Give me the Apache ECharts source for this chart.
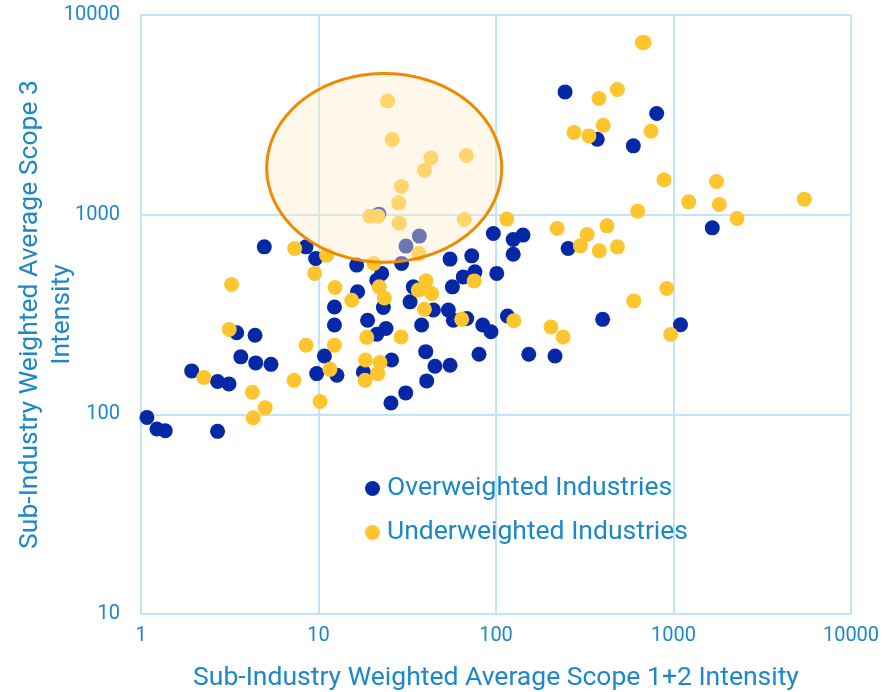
<!DOCTYPE html>
<html>
<head>
<meta charset="utf-8">
<script src="https://cdn.jsdelivr.net/npm/echarts@6/dist/echarts.min.js"></script>
<style>
  html, body { margin: 0; padding: 0; background: #ffffff; }
  #chart { width: 894px; height: 692px; }
</style>
</head>
<body>
<div id="chart"></div>
<script>
// Scope 1+2 intensity (x) and Scope 3 intensity (y) per sub-industry
const overweightX = [4.95, 8.5, 9.64, 12.3, 12.3, 3.46, 4.39, 3.65, 10.8, 4.43, 5.4, 1.93, 2.7, 3.13, 9.77,
  1.08, 1.23, 1.37, 2.7, 16.4, 29.4, 31.1, 37.0, 55.1, 73.0, 96.6, 22.7, 21.3, 23.2, 16.6, 18.9, 21.3, 24.0,
  34.2, 32.8, 44.4, 38.1, 56.8, 65.4, 76.1, 101, 53.9, 57.5, 68.4, 84.2, 93.7, 12.7, 17.9, 25.8, 40.2, 45.3,
  55.1, 40.7, 80.2, 31.0, 25.6, 125, 142, 125, 255, 116, 399, 1095, 153, 215, 1654, 21.9, 245, 804, 372, 594];
const overweightY = [690, 690, 603, 345, 280, 256, 249, 194, 196, 181, 178, 165, 146, 142, 160,
  96.5, 84.4, 82.7, 82.2, 559, 570, 696, 781, 599, 622, 805, 508, 470, 343, 411, 296, 252, 269,
  435, 366, 333, 280, 435, 488, 517, 508, 333, 296, 302, 280, 259, 157, 163, 187, 206, 174,
  176, 147, 200, 128, 114, 751, 790, 634, 677, 311, 299, 281, 200, 196, 859, 1006, 4119, 3211, 2388, 2211];

const underweightX = [7.34, 11.1, 9.52, 3.24, 12.4, 3.14, 8.5, 12.3, 11.6, 2.26, 7.28, 4.24, 10.2, 5.01, 4.29,
  20.5, 36.8, 22.0, 23.5, 15.4, 18.7, 29.2, 40.3, 36.5, 43.4, 39.5, 75.4, 64.1, 18.4, 22.2, 21.6, 18.3,
  115, 221, 326, 422, 628, 299, 382, 483, 916, 597, 126, 204, 239, 964, 884, 1747, 1218, 1811, 5457, 2279,
  24.5, 26.0, 43.0, 39.5, 68.0, 29.3, 28.3, 19.5, 21.6, 28.5, 66.3,
  668, 684, 483, 380, 402, 275, 334, 747];
const underweightY = [677, 627, 508, 447, 432, 266, 222, 222, 168, 153, 148, 129, 116, 108, 96.1,
  570, 639, 435, 383, 373, 243, 244, 466, 419, 403, 336, 466, 299, 187, 182, 160, 148,
  950, 853, 796, 879, 1041, 698, 659, 690, 427, 370, 294, 274, 244, 251, 1497, 1466, 1159, 1125, 1196, 957,
  3712, 2379, 1925, 1671, 1979, 1384, 1146, 983, 983, 907, 946,
  7280, 7280, 4234, 3815, 2805, 2579, 2480, 2618];

// Highlighted region (data-space bounding box of the ellipse)
const highlightX = [5.11, 107.7];
const highlightY = [578, 5092];

const seriesNames = ['Overweighted Industries', 'Underweighted Industries'];

const zip = (xs, ys) => xs.map((x, i) => [x, ys[i]]);

const textBlue = '#1C87C9';
const gridBlue = '#C2E4F7';
const font = 'Roboto';

const chart = echarts.init(document.getElementById('chart'), null, { renderer: 'canvas' });

chart.setOption({
  animation: false,
  backgroundColor: '#ffffff',
  grid: { left: 141, right: 43, top: 15, bottom: 78, outerBoundsMode: 'none', containLabel: false },
  legend: {
    data: seriesNames,
    orient: 'vertical',
    left: 365,
    top: 475,
    padding: 0,
    itemGap: 17,
    icon: 'circle',
    itemWidth: 15,
    itemHeight: 15,
    textStyle: { color: textBlue, fontSize: 26.5, fontFamily: font, padding: [0, 0, 0, 2] }
  },
  xAxis: {
    type: 'log',
    logBase: 10,
    min: 1,
    max: 10000,
    name: 'Sub-Industry Weighted Average Scope 1+2 Intensity',
    nameLocation: 'middle',
    nameGap: 49,
    nameMoveOverlap: false,
    nameTextStyle: { color: textBlue, fontSize: 26.5, fontFamily: font, lineHeight: 30 },
    axisLine: { show: true, lineStyle: { color: gridBlue, width: 2 } },
    axisTick: { show: false },
    axisLabel: { color: textBlue, fontSize: 20, fontFamily: font, margin: 12,
      formatter: v => String(Math.round(v)) },
    splitLine: { show: true, lineStyle: { color: gridBlue, width: 2 } }
  },
  yAxis: {
    type: 'log',
    logBase: 10,
    min: 10,
    max: 10000,
    name: 'Sub-Industry Weighted Average Scope 3\nIntensity',
    nameLocation: 'middle',
    nameGap: 63,
    nameMoveOverlap: false,
    nameTextStyle: { color: textBlue, fontSize: 26.5, fontFamily: font, lineHeight: 32 },
    axisLine: { show: true, lineStyle: { color: gridBlue, width: 2 } },
    axisTick: { show: false },
    axisLabel: { color: textBlue, fontSize: 20, fontFamily: font, margin: 21,
      formatter: v => String(Math.round(v)) },
    splitLine: { show: true, lineStyle: { color: gridBlue, width: 2 } }
  },
  series: [
    {
      name: seriesNames[0],
      type: 'scatter',
      symbol: 'circle',
      symbolSize: 15,
      itemStyle: { color: '#0528A6', opacity: 1 },
      data: zip(overweightX, overweightY),
      z: 2
    },
    {
      name: seriesNames[1],
      type: 'scatter',
      symbol: 'circle',
      symbolSize: 15,
      itemStyle: { color: '#FFC52E', opacity: 1 },
      data: zip(underweightX, underweightY),
      z: 3
    },
    {
      name: 'highlight',
      type: 'custom',
      silent: true,
      z: 5,
      data: [[Math.sqrt(highlightX[0] * highlightX[1]), Math.sqrt(highlightY[0] * highlightY[1])]],
      renderItem: function (params, api) {
        const p0 = api.coord([highlightX[0], highlightY[0]]);
        const p1 = api.coord([highlightX[1], highlightY[1]]);
        const cx = (p0[0] + p1[0]) / 2;
        const cy = (p0[1] + p1[1]) / 2;
        const rx = Math.abs(p1[0] - p0[0]) / 2;
        const ry = Math.abs(p1[1] - p0[1]) / 2;
        const pts = [];
        const n = 240;
        for (let i = 0; i < n; i++) {
          const a = (i / n) * Math.PI * 2;
          pts.push([cx + rx * Math.cos(a), cy + ry * Math.sin(a)]);
        }
        return {
          type: 'polygon',
          shape: { points: pts },
          style: { fill: 'rgba(255,237,202,0.4)', stroke: '#EE8A00', lineWidth: 3 }
        };
      }
    }
  ]
});
</script>
</body>
</html>
